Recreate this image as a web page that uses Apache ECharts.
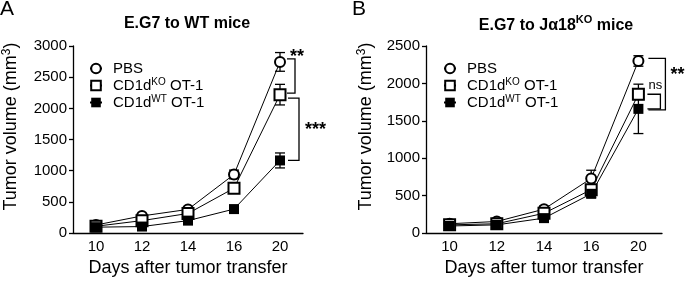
<!DOCTYPE html>
<html>
<head>
<meta charset="utf-8">
<script src="https://cdn.jsdelivr.net/npm/echarts@6/dist/echarts.min.js"></script>
<style>
  html, body { margin: 0; padding: 0; background: #fff; }
  #chart { width: 685px; height: 282px; }
</style>
</head>
<body>
<div id="chart"></div>
<script>
// x categories (days after tumor transfer)
const days = ['10', '12', '14', '16', '20'];
const groups = ['PBS', 'CD1d KO OT-1', 'CD1d WT OT-1'];

// panel A: E.G7 to WT mice
const wtPbs = [130, 275, 380, 940, 2745];
const wtPbsErr = [40, 40, 40, 70, 150];
const wtKo = [110, 200, 315, 720, 2220];
const wtKoErr = [30, 30, 30, 40, 165];
const wtWt = [95, 105, 200, 385, 1165];
const wtWtErr = [30, 20, 20, 30, 120];
const ticksA = [0, 500, 1000, 1500, 2000, 2500, 3000];

// panel B: E.G7 to Ja18 KO mice
const jaPbs = [125, 155, 320, 730, 2300];
const jaPbsErr = [30, 30, 40, 110, 70];
const jaKo = [110, 125, 265, 580, 1855];
const jaKoErr = [30, 20, 30, 60, 70];
const jaWt = [95, 110, 200, 525, 1660];
const jaWtErr = [20, 20, 30, 50, 330];
const ticksB = [0, 500, 1000, 1500, 2000, 2500];

// significance brackets: [upper group, lower group, label]
const sigA = [[0, 1, '**'], [1, 2, '***']];
const sigB = [[0, 2, '**'], [1, 2, 'ns']];

const FONT = 'Liberation Sans';
const symbols = ['emptyCircle', 'emptyRect', 'rect'];
const symbolSizes = [10, 11, 10];

const legendNames = {
  'PBS': '{a|PBS}',
  'CD1d KO OT-1': '{a|CD1d}{s|KO}{a| OT-1}',
  'CD1d WT OT-1': '{a|CD1d}{s|WT}{a| OT-1}'
};
const richText = {
  a: { fontSize: 15, lineHeight: 17, fontFamily: FONT, color: '#000' },
  s: { fontSize: 10, lineHeight: 10, verticalAlign: 'top', fontFamily: FONT, color: '#000' }
};

function errorSeries(gridIdx, means, errs) {
  return {
    type: 'custom',
    xAxisIndex: gridIdx,
    yAxisIndex: gridIdx,
    z: 1,
    silent: true,
    data: means.map((m, i) => [i, m - errs[i], m + errs[i]]),
    renderItem: function (params, api) {
      const lo = api.coord([api.value(0), api.value(1)]);
      const hi = api.coord([api.value(0), api.value(2)]);
      const w = 5;
      const st = { stroke: '#000', lineWidth: 1.3 };
      return {
        type: 'group',
        children: [
          { type: 'line', shape: { x1: lo[0], y1: lo[1], x2: hi[0], y2: hi[1] }, style: st },
          { type: 'line', shape: { x1: lo[0] - w, y1: lo[1], x2: lo[0] + w, y2: lo[1] }, style: st },
          { type: 'line', shape: { x1: hi[0] - w, y1: hi[1], x2: hi[0] + w, y2: hi[1] }, style: st }
        ]
      };
    }
  };
}

function lineSeries(gridIdx, idx, means) {
  return {
    name: groups[idx],
    type: 'line',
    xAxisIndex: gridIdx,
    yAxisIndex: gridIdx,
    data: means,
    symbol: symbols[idx],
    symbolSize: symbolSizes[idx],
    showAllSymbol: true,
    z: 3,
    lineStyle: { color: '#000', width: 1 },
    itemStyle: { color: '#000', borderWidth: idx === 0 ? 2 : 1.6 },
    emphasis: { disabled: true }
  };
}

// bracket layout, pixel offsets from the day-20 point
const bracketLayout = [
  [ // panel A
    { x0: 7, x1: 15, dy0: -3, dy1: -1.5, anchor: 'top', tx: 10, ty: -5, align: 'left', size: 18, bold: true },
    { x0: 8, x1: 19, dy0: 3.5, dy1: 0, anchor: 'mid', tx: 25, ty: 1, align: 'left', size: 18, bold: true }
  ],
  [ // panel B
    { x0: 10, x1: 27, dy0: -2.5, dy1: 1, anchor: 'mid', tx: 32, ty: -9, align: 'left', size: 18, bold: true },
    { x0: 9, x1: 22, dy0: 0, dy1: 0, anchor: 'top', tx: 17, ty: -9, align: 'center', size: 13, bold: false }
  ]
];

function bracketSeries(gridIdx, sig, meanSets) {
  const last = days.length - 1;
  return {
    type: 'custom',
    xAxisIndex: gridIdx,
    yAxisIndex: gridIdx,
    z: 4,
    silent: true,
    data: sig.map(s => [last, meanSets[s[0]][last], meanSets[s[1]][last]]),
    renderItem: function (params, api) {
      const L = bracketLayout[gridIdx][params.dataIndex];
      const p0 = api.coord([api.value(0), api.value(1)]);
      const p1 = api.coord([api.value(0), api.value(2)]);
      const x = p0[0];
      const y0 = p0[1] + L.dy0;
      const y1 = p1[1] + L.dy1;
      const ref = L.anchor === 'top' ? p0[1] : (y0 + y1) / 2;
      return {
        type: 'group',
        children: [
          {
            type: 'polyline',
            shape: { points: [[x + L.x0, y0], [x + L.x1, y0], [x + L.x1, y1], [x + L.x0, y1]] },
            style: { stroke: '#000', fill: null, lineWidth: 1.3 }
          },
          {
            type: 'text',
            x: x + L.tx,
            y: ref + L.ty,
            style: {
              text: sig[params.dataIndex][2],
              fontSize: L.size,
              fontWeight: L.bold ? 'bold' : 'normal',
              fontFamily: FONT,
              fill: '#000',
              align: L.align,
              verticalAlign: 'middle'
            }
          }
        ]
      };
    }
  };
}

function xAxisFor(gridIdx) {
  return {
    type: 'category',
    gridIndex: gridIdx,
    data: days,
    boundaryGap: true,
    name: 'Days after tumor transfer',
    nameLocation: 'middle',
    nameGap: 22,
    nameTextStyle: { fontSize: 18, fontFamily: FONT, color: '#000' },
    axisLine: { lineStyle: { color: '#000', width: 1.3 } },
    axisTick: { alignWithLabel: true, length: 4, lineStyle: { color: '#000', width: 1.3 } },
    axisLabel: { fontSize: 15, fontFamily: FONT, color: '#000', margin: 6 },
    splitLine: { show: false }
  };
}

function yAxisFor(gridIdx, ticks, gap) {
  return {
    type: 'value',
    gridIndex: gridIdx,
    min: ticks[0],
    max: ticks[ticks.length - 1],
    interval: ticks[1] - ticks[0],
    name: '{a|Tumor volume (mm}{s|3}{a|)}',
    nameLocation: 'middle',
    nameGap: gap,
    nameRotate: 90,
    nameTextStyle: {
      padding: [0, 0, 0, 26],
      rich: {
        a: { fontSize: 18, lineHeight: 20, fontFamily: FONT, color: '#000' },
        s: { fontSize: 12, lineHeight: 12, verticalAlign: 'top', fontFamily: FONT, color: '#000' }
      }
    },
    axisLine: { show: true, lineStyle: { color: '#000', width: 1.3 } },
    axisTick: { show: true, length: 4, lineStyle: { color: '#000', width: 1.3 } },
    axisLabel: { fontSize: 15, fontFamily: FONT, color: '#000', margin: 6, formatter: v => String(v) },
    splitLine: { show: false }
  };
}

function legendFor(left) {
  return {
    orient: 'vertical',
    left: left,
    top: 61,
    padding: 0,
    itemWidth: 12,
    itemHeight: 12,
    itemGap: 1,
    selectedMode: false,
    data: groups,
    formatter: name => legendNames[name],
    textStyle: { padding: [0, 0, 0, 6], rich: richText }
  };
}

const chart = echarts.init(document.getElementById('chart'), null, { renderer: 'canvas' });
chart.setOption({
  animation: false,
  backgroundColor: '#fff',
  textStyle: { fontFamily: FONT, color: '#000' },
  title: [
    { text: 'A', left: 0, top: -1, padding: 0, textStyle: { fontSize: 21, fontWeight: 'normal', fontFamily: FONT, color: '#000' } },
    { text: 'B', left: 352, top: -1, padding: 0, textStyle: { fontSize: 21, fontWeight: 'normal', fontFamily: FONT, color: '#000' } },
    { text: 'E.G7 to WT mice', left: 187, top: 16, padding: 0, textAlign: 'center',
      textStyle: { fontSize: 16, fontWeight: 'bold', fontFamily: FONT, color: '#000' } },
    { text: '{b|E.G7 to J\u03b118}{s|KO}{b| mice}', left: 556, top: 14, padding: 0, textAlign: 'center',
      textStyle: { rich: {
        b: { fontSize: 16, lineHeight: 20, fontWeight: 'bold', fontFamily: FONT, color: '#000', verticalAlign: 'bottom' },
        s: { fontSize: 11, lineHeight: 11, fontWeight: 'bold', fontFamily: FONT, color: '#000', verticalAlign: 'top' }
      } } }
  ],
  legend: [legendFor(89), legendFor(443)],
  grid: [
    { left: 72, top: 46, width: 231, height: 191 },
    { left: 426, top: 46, width: 236, height: 193 }
  ],
  xAxis: [xAxisFor(0), xAxisFor(1)],
  yAxis: [yAxisFor(0, ticksA, 52), yAxisFor(1, ticksB, 50)],
  series: [
    errorSeries(0, wtPbs, wtPbsErr),
    errorSeries(0, wtKo, wtKoErr),
    errorSeries(0, wtWt, wtWtErr),
    lineSeries(0, 0, wtPbs),
    lineSeries(0, 1, wtKo),
    lineSeries(0, 2, wtWt),
    bracketSeries(0, sigA, [wtPbs, wtKo, wtWt]),
    errorSeries(1, jaPbs, jaPbsErr),
    errorSeries(1, jaKo, jaKoErr),
    errorSeries(1, jaWt, jaWtErr),
    lineSeries(1, 0, jaPbs),
    lineSeries(1, 1, jaKo),
    lineSeries(1, 2, jaWt),
    bracketSeries(1, sigB, [jaPbs, jaKo, jaWt])
  ]
});
</script>
</body>
</html>
